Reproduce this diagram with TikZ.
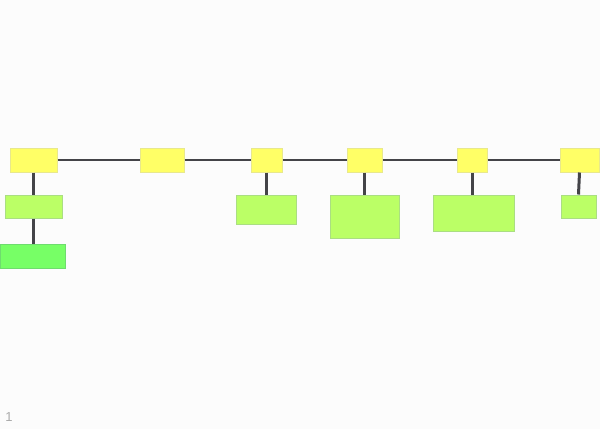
\documentclass[tikz,border=0pt]{standalone}
\usepackage{fontspec}
\setmainfont{Liberation Sans}
\definecolor{bgc}{RGB}{252,252,252}
\definecolor{yfill}{RGB}{255,255,102}
\definecolor{yline}{RGB}{232,232,140}
\definecolor{gfill}{RGB}{187,255,102}
\definecolor{gline}{RGB}{170,222,130}
\definecolor{bfill}{RGB}{119,255,102}
\definecolor{bline}{RGB}{110,220,110}
\definecolor{conn}{RGB}{68,68,72}
\definecolor{lbl}{RGB}{170,170,170}
\begin{document}
\begin{tikzpicture}[x=1pt,y=-1pt,
  ybox/.style={draw=yline,fill=yfill,line width=1pt,rectangle,inner sep=0pt,minimum height=24pt},
  gbox/.style={draw=gline,fill=gfill,line width=1pt,rectangle,inner sep=0pt},
  bbox/.style={draw=bline,fill=bfill,line width=1pt,rectangle,inner sep=0pt},
  hconn/.style={draw=conn,line width=1.5pt},
  vconn/.style={draw=conn,line width=3pt}]
\fill[bgc] (0,0) rectangle (600,429);
\useasboundingbox (0,0) rectangle (600,429);
\node[ybox,minimum width=47pt] (y1) at (33.5,160) {};
\node[ybox,minimum width=44pt] (y2) at (162,160) {};
\node[ybox,minimum width=31pt] (y3) at (266.5,160) {};
\node[ybox,minimum width=35pt] (y4) at (364.5,160) {};
\node[ybox,minimum width=30pt] (y5) at (472,160) {};
\node[ybox,minimum width=39pt] (y6) at (579.5,160) {};
\node[gbox,minimum width=57pt,minimum height=23pt] (g1) at (33.5,206.5) {};
\node[gbox,minimum width=60pt,minimum height=29pt] (g2) at (266,209.5) {};
\node[gbox,minimum width=69pt,minimum height=43pt] (g3) at (364.5,216.5) {};
\node[gbox,minimum width=81pt,minimum height=36pt] (g4) at (473.5,213) {};
\node[gbox,minimum width=35pt,minimum height=23pt] (g5) at (578.5,206.5) {};
\node[bbox,minimum width=65pt,minimum height=24pt] (b1) at (32.5,256) {};
\draw[hconn] (y1.east) -- (y2.west);
\draw[hconn] (y2.east) -- (y3.west);
\draw[hconn] (y3.east) -- (y4.west);
\draw[hconn] (y4.east) -- (y5.west);
\draw[hconn] (y5.east) -- (y6.west);
\draw[vconn] (y1.south) -- (y1.south |- g1.north);
\draw[vconn] (g1.south) -- (g1.south |- b1.north);
\draw[vconn] (y3.south) -- (y3.south |- g2.north);
\draw[vconn] (y4.south) -- (y4.south |- g3.north);
\draw[vconn] (y5.south) -- (y5.south |- g4.north);
\draw[vconn] (y6.south) -- (g5.north);
\node[text=lbl,font=\fontsize{13}{14}\selectfont,anchor=center] (n1) at (9,417.5) {1};
\end{tikzpicture}
\end{document}
